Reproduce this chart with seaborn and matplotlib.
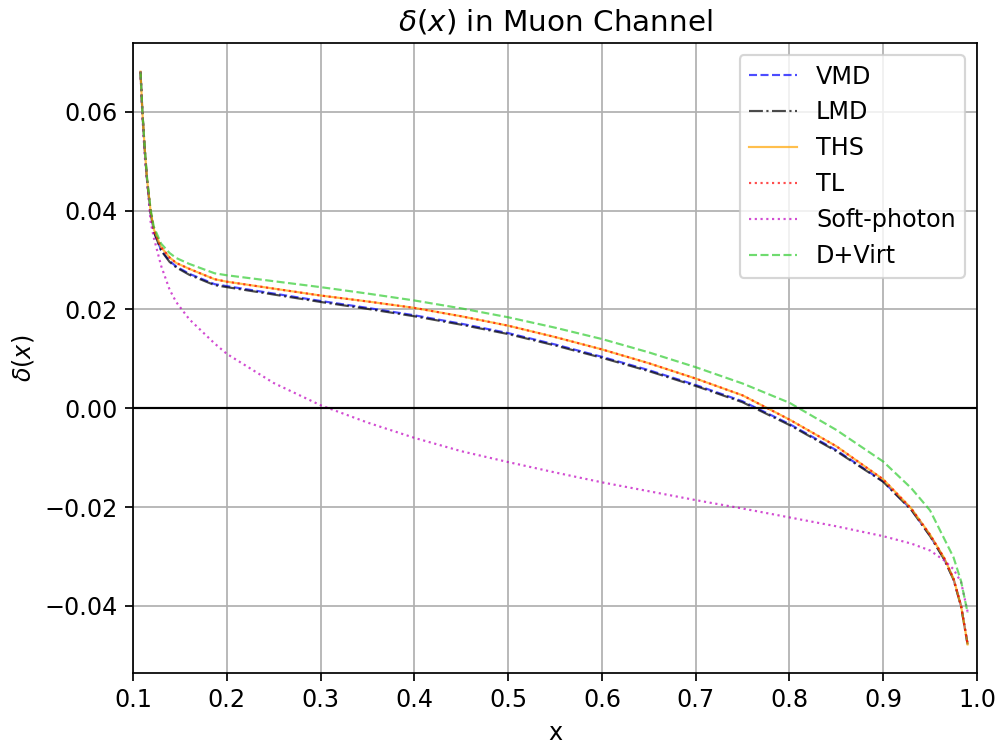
import numpy as np
import pandas as pd
import matplotlib
matplotlib.use("Agg")
import matplotlib.pyplot as plt
import seaborn as sns

plt.rcParams["font.size"] = 11.0

# Sample points in x (shared by all curves)
x_vals = [0.108, 0.110, 0.1125, 0.115, 0.1187, 0.1222, 0.130, 0.139, 0.146, 0.160,
          0.187, 0.200, 0.250, 0.300, 0.350, 0.400, 0.450, 0.500, 0.550, 0.600,
          0.650, 0.700, 0.750, 0.800, 0.850, 0.900, 0.930, 0.950, 0.965, 0.975,
          0.983, 0.990]

vmd = [0.0681, 0.0600, 0.0524, 0.0461, 0.0397, 0.0358, 0.0320, 0.0298, 0.0287, 0.0272,
       0.0251, 0.0247, 0.0232, 0.0217, 0.0203, 0.0188, 0.0171, 0.0152, 0.0129, 0.0104,
       0.0077, 0.0047, 0.0014, -0.0032, -0.0085, -0.0148, -0.0205, -0.0258, -0.0305, -0.0346,
       -0.0400, -0.0478]

lmd = [0.0681, 0.0600, 0.0523, 0.0460, 0.0396, 0.0357, 0.0319, 0.0296, 0.0285, 0.0270,
       0.0249, 0.0245, 0.0230, 0.0215, 0.0201, 0.0186, 0.0169, 0.0150, 0.0127, 0.0102,
       0.0075, 0.0045, 0.0012, -0.0034, -0.0087, -0.0149, -0.0206, -0.0259, -0.0306, -0.0347,
       -0.0401, -0.0478]

ths = [0.0681, 0.0600, 0.0525, 0.0463, 0.0400, 0.0362, 0.0326, 0.0305, 0.0294, 0.0282,
       0.0261, 0.0256, 0.0242, 0.0228, 0.0216, 0.0203, 0.0186, 0.0167, 0.0144, 0.0119,
       0.0091, 0.0060, 0.0026, -0.0023, -0.0077, -0.0144, -0.0203, -0.0256, -0.0303, -0.0345,
       -0.0400, -0.0478]

tl = [0.0681, 0.0600, 0.0525, 0.0463, 0.0400, 0.0362, 0.0326, 0.0305, 0.0294, 0.0282,
      0.0261, 0.0256, 0.0242, 0.0228, 0.0216, 0.0203, 0.0186, 0.0167, 0.0144, 0.0119,
      0.0091, 0.0060, 0.0026, -0.0023, -0.0077, -0.0144, -0.0203, -0.0256, -0.0303, -0.0345,
      -0.0400, -0.0478]

soft_photon = [0.0681, 0.0590, 0.0510, 0.0460, 0.0378, 0.0345, 0.0288, 0.0240, 0.0215, 0.0180,
               0.0131, 0.0110, 0.0051, 0.0006, -0.0029, -0.0060, -0.0087, -0.0109, -0.0130, -0.0150,
               -0.0168, -0.0186, -0.0203, -0.0221, -0.0239, -0.0259, -0.0274, -0.0288, -0.0308, -0.0326,
               -0.0352, -0.0412]

d_virt = [0.0681, 0.0601, 0.0527, 0.0466, 0.0403, 0.0367, 0.0333, 0.0314, 0.0304, 0.0292,
          0.0273, 0.0269, 0.0257, 0.0245, 0.0232, 0.0218, 0.0202, 0.0184, 0.0163, 0.0140,
          0.0113, 0.0083, 0.0050, 0.0011, -0.0044, -0.0108, -0.0162, -0.0207, -0.0264, -0.0302,
          -0.0350, -0.0414]

x_ticks = [0.1, 0.2, 0.3, 0.4, 0.5, 0.6, 0.7, 0.8, 0.9, 1.0]
y_ticks = [-0.04, -0.02, 0.00, 0.02, 0.04, 0.06]

series = [
    ("VMD", vmd, "b", "--"),
    ("LMD", lmd, "k", "-."),
    ("THS", ths, "orange", "-"),
    ("TL", tl, "r", ":"),
    ("Soft-photon", soft_photon, "m", ":"),
    ("D+Virt", d_virt, "limegreen", "--"),
]

fig = plt.figure(figsize=(6.4, 4.7808), dpi=156.25)
ax = fig.add_axes([0.133, 0.099, 0.844, 0.8434])

for name, vals, color, ls in series:
    df = pd.DataFrame({"x": x_vals, "y": vals})
    sns.lineplot(data=df, x="x", y="y", ax=ax, color=color, linestyle=ls,
                 linewidth=1.0, alpha=0.7, label=name, sort=True)

ax.axhline(0, color="black", linewidth=1.0)
ax.grid(True, color="#b0b0b0", linewidth=0.8)
ax.set_xlim(0.1, 1.0)
ax.set_xticks(x_ticks)
ax.set_yticks(y_ticks)
ax.set_xlabel("x")
ax.set_ylabel(r"$\delta(x)$")
ax.set_title(r"$\delta(x)$ in Muon Channel", fontsize=13.6)
ax.legend(loc="upper right")

fig.savefig("out.png", dpi=156.25)
